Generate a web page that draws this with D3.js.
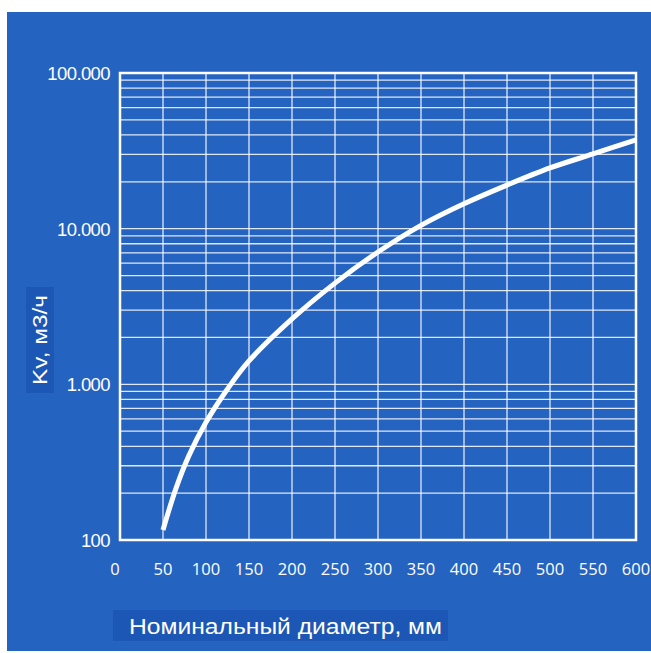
<!DOCTYPE html>
<html>
<head>
<meta charset="utf-8">
<script src="https://cdn.jsdelivr.net/npm/d3@7"></script>
<style>
  body { margin: 0; background: #fff; }
  svg { display: block; }
</style>
</head>
<body>
<div id="chart"></div>
<script>
// номинальный диаметр, мм
var diameters = [50, 65, 80, 100, 125, 150, 200, 250, 300, 350, 400, 450, 500, 550, 600];
// Kv, м3/ч
var kvValues = [116, 214, 347, 570, 933, 1413, 2630, 4470, 7080, 10500, 14450, 19050, 24550, 30200, 37150];
var xTicks = [0, 50, 100, 150, 200, 250, 300, 350, 400, 450, 500, 550, 600];
var yTicks = [100, 1000, 10000, 100000];
var yTickLabels = ['100', '1.000', '10.000', '100.000'];

var width = 651, height = 653;
var plotLeft = 120, plotRight = 636, plotTop = 73, plotBottom = 540;
var blue = '#2563c1', darkBlue = '#1d57b6';

var svg = d3.select('#chart').append('svg')
  .attr('width', width)
  .attr('height', height);

svg.append('rect')
  .attr('x', 7).attr('y', 12)
  .attr('width', width - 7).attr('height', height - 14)
  .attr('fill', blue);

var x = d3.scaleLinear().domain([0, 600]).range([plotLeft, plotRight]);
var y = d3.scaleLog().domain([100, 100000]).range([plotBottom, plotTop]);

// grid
var grid = svg.append('g').attr('stroke', '#fff').attr('stroke-opacity', 0.85).attr('stroke-width', 1.3);
grid.selectAll('line.h')
  .data(y.ticks())
  .enter().append('line')
    .attr('class', 'h')
    .attr('x1', plotLeft).attr('x2', plotRight)
    .attr('y1', function (d) { return y(d); })
    .attr('y2', function (d) { return y(d); });
grid.selectAll('line.v')
  .data(xTicks)
  .enter().append('line')
    .attr('class', 'v')
    .attr('x1', function (d) { return x(d); })
    .attr('x2', function (d) { return x(d); })
    .attr('y1', plotTop).attr('y2', plotBottom);

svg.append('rect')
  .attr('x', plotLeft).attr('y', plotTop)
  .attr('width', plotRight - plotLeft).attr('height', plotBottom - plotTop)
  .attr('fill', 'none')
  .attr('stroke', '#fff')
  .attr('stroke-width', 2.5);

// curve
var line = d3.line()
  .x(function (d, i) { return x(diameters[i]); })
  .y(function (d) { return y(d); })
  .curve(d3.curveCatmullRom.alpha(0.5));

svg.append('path')
  .attr('d', line(kvValues))
  .attr('fill', 'none')
  .attr('stroke', '#fff')
  .attr('stroke-width', 5)
  .attr('stroke-linecap', 'butt');

// y tick labels
svg.append('g').selectAll('text')
  .data(yTicks)
  .enter().append('text')
    .attr('x', 110)
    .attr('y', function (d) { return y(d) + 7; })
    .attr('text-anchor', 'end')
    .attr('fill', '#fff')
    .style('font-family', '"Liberation Sans", Arial, sans-serif')
    .style('font-size', '18.5px')
    .style('letter-spacing', '-0.6px')
    .text(function (d, i) { return yTickLabels[i]; });

// x tick labels
svg.append('g').selectAll('text')
  .data(xTicks)
  .enter().append('text')
    .attr('x', function (d) { return d === 0 ? x(d) - 5 : x(d); })
    .attr('y', 575)
    .attr('text-anchor', 'middle')
    .attr('fill', '#fff')
    .style('font-family', '"Open Sans", sans-serif')
    .style('font-size', '16.5px')
    .text(function (d) { return d; });

// axis titles on darker panels
svg.append('rect')
  .attr('x', 113).attr('y', 610)
  .attr('width', 335).attr('height', 31)
  .attr('fill', darkBlue);
svg.append('text')
  .attr('x', 129).attr('y', 634)
  .attr('fill', '#fff')
  .attr('textLength', 313)
  .attr('lengthAdjust', 'spacingAndGlyphs')
  .style('font-family', '"Liberation Sans", Arial, sans-serif')
  .style('font-size', '22px')
  .text('Номинальный диаметр, мм');

svg.append('rect')
  .attr('x', 26).attr('y', 287)
  .attr('width', 28).attr('height', 106)
  .attr('fill', darkBlue);
svg.append('text')
  .attr('transform', 'translate(47,385) rotate(-90)')
  .attr('fill', '#fff')
  .attr('textLength', 90)
  .attr('lengthAdjust', 'spacingAndGlyphs')
  .style('font-family', '"Liberation Sans", Arial, sans-serif')
  .style('font-size', '20px')
  .text('Kv, м3/ч');
</script>
</body>
</html>
